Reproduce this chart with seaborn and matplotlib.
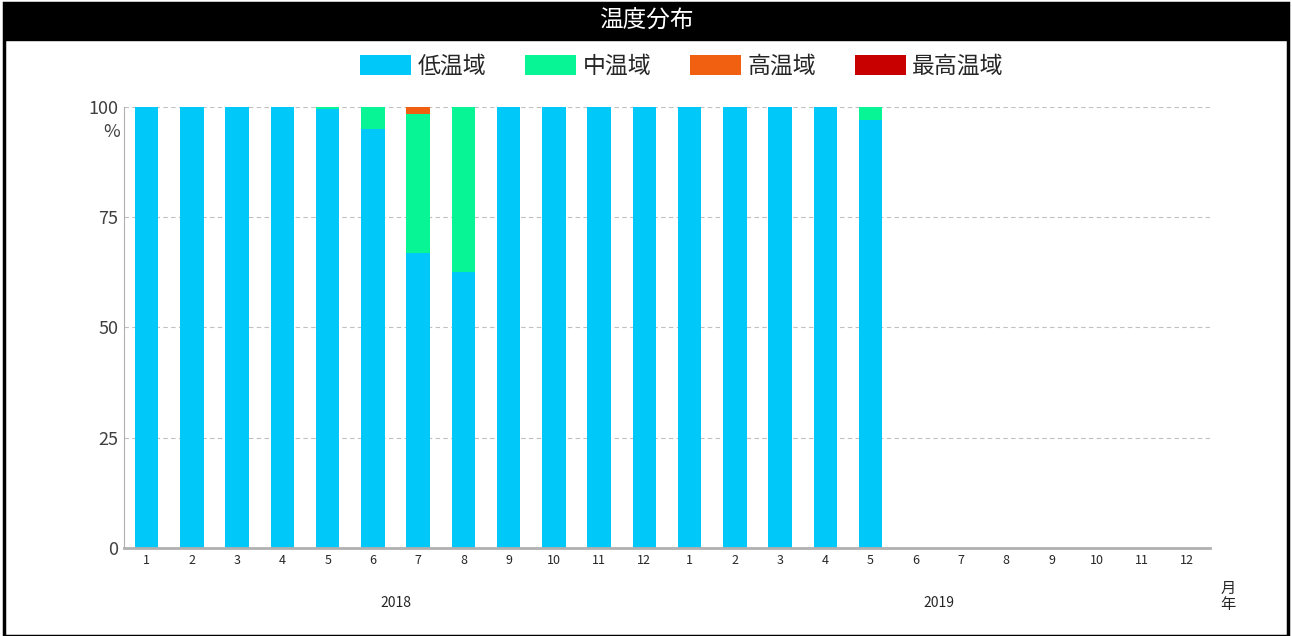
"""
温度分布 - 積み上げ棒グラフ
"""
import matplotlib
import matplotlib.pyplot as plt
import numpy as np
import pandas as pd
import seaborn as sns
from matplotlib.patches import Patch, Rectangle

matplotlib.use("Agg")

# データ
years = ["2018"] * 12 + ["2019"] * 12
months = [str(m) for m in range(1, 13)] * 2
low = [100, 100, 100, 100, 99.5, 95, 67, 62.5, 100, 100, 100, 100,
       100, 100, 100, 100, 97, 0, 0, 0, 0, 0, 0, 0]
mid = [0, 0, 0, 0, 0.5, 5, 31.5, 37.5, 0, 0, 0, 0,
       0, 0, 0, 0, 3, 0, 0, 0, 0, 0, 0, 0]
high = [0, 0, 0, 0, 0, 0, 1.5, 0, 0, 0, 0, 0,
        0, 0, 0, 0, 0, 0, 0, 0, 0, 0, 0, 0]
highest = [0] * 24
series_names = ["低温域", "中温域", "高温域", "最高温域"]
colors = ["#00C8F8", "#08F596", "#F06010", "#C80000"]

sns.set_style("white")
plt.rcParams["font.family"] = ["Noto Sans CJK JP", "DejaVu Sans"]

keys = [f"{y}-{m}" for y, m in zip(years, months)]

fig = plt.figure(figsize=(12.92, 6.36), dpi=100)

# 外枠とタイトルバー
fig.patches.append(Rectangle((0.003, 0.0), 0.994, 0.995, transform=fig.transFigure,
                             fill=False, edgecolor="black", linewidth=2.5))
fig.patches.append(Rectangle((0.003, 0.937), 0.994, 0.058, transform=fig.transFigure,
                             facecolor="black", edgecolor="black"))
fig.text(0.5, 0.966, "温度分布", color="white", ha="center", va="center", fontsize=17)

ax = fig.add_axes([0.096, 0.1384, 0.8405, 0.6934])

# 積み上げ: 累積値を大きい方から重ね描き
cum = np.cumsum(np.array([low, mid, high, highest]), axis=0)
for i in range(3, -1, -1):
    d = pd.DataFrame({"key": keys, "val": cum[i]})
    sns.barplot(data=d, x="key", y="val", order=keys, color=colors[i],
                width=0.52, saturation=1, ax=ax, edgecolor="none", zorder=2)

ax.set_xlim(-0.5, 23.5)
ax.set_ylim(0, 100)
ax.set_yticks([0, 25, 50, 75, 100])
ax.set_yticklabels(["0", "25", "50", "75", "100"], fontsize=13, color="#404040")
ax.set_xticks(range(24))
ax.set_xticklabels(months, fontsize=9)
ax.tick_params(axis="both", length=0, pad=4)
ax.set_xlabel("")
ax.set_ylabel("")
ax.yaxis.grid(True, linestyle=(0, (4, 3)), color="#c0c0c0", linewidth=0.8, zorder=0)
ax.set_axisbelow(True)
for s in ["top", "right"]:
    ax.spines[s].set_visible(False)
ax.spines["left"].set_color("#b0b0b0")
ax.spines["bottom"].set_color("#b0b0b0")
ax.spines["bottom"].set_linewidth(2)

ax.text(-0.004, 0.943, "%", transform=ax.transAxes, ha="right", va="center",
        fontsize=13, color="#404040")

# 年ラベル
for j, yr in enumerate(["2018", "2019"]):
    ax.text(j * 12 + 5.5, -0.125, yr, transform=ax.get_xaxis_transform(),
            ha="center", va="center", fontsize=10)
ax.text(1.0165, -0.11, "月\n年", transform=ax.transAxes, ha="center", va="center",
        fontsize=11, linespacing=0.95)

# 凡例
handles = [Patch(facecolor=c, edgecolor="none") for c in colors]
fig.legend(handles, series_names, loc="center", bbox_to_anchor=(0.528, 0.896), ncol=4,
           frameon=False, fontsize=16.5, handlelength=2.2, handleheight=1.0,
           handletextpad=0.3, columnspacing=1.7)

fig.savefig("out.png", dpi=100)
